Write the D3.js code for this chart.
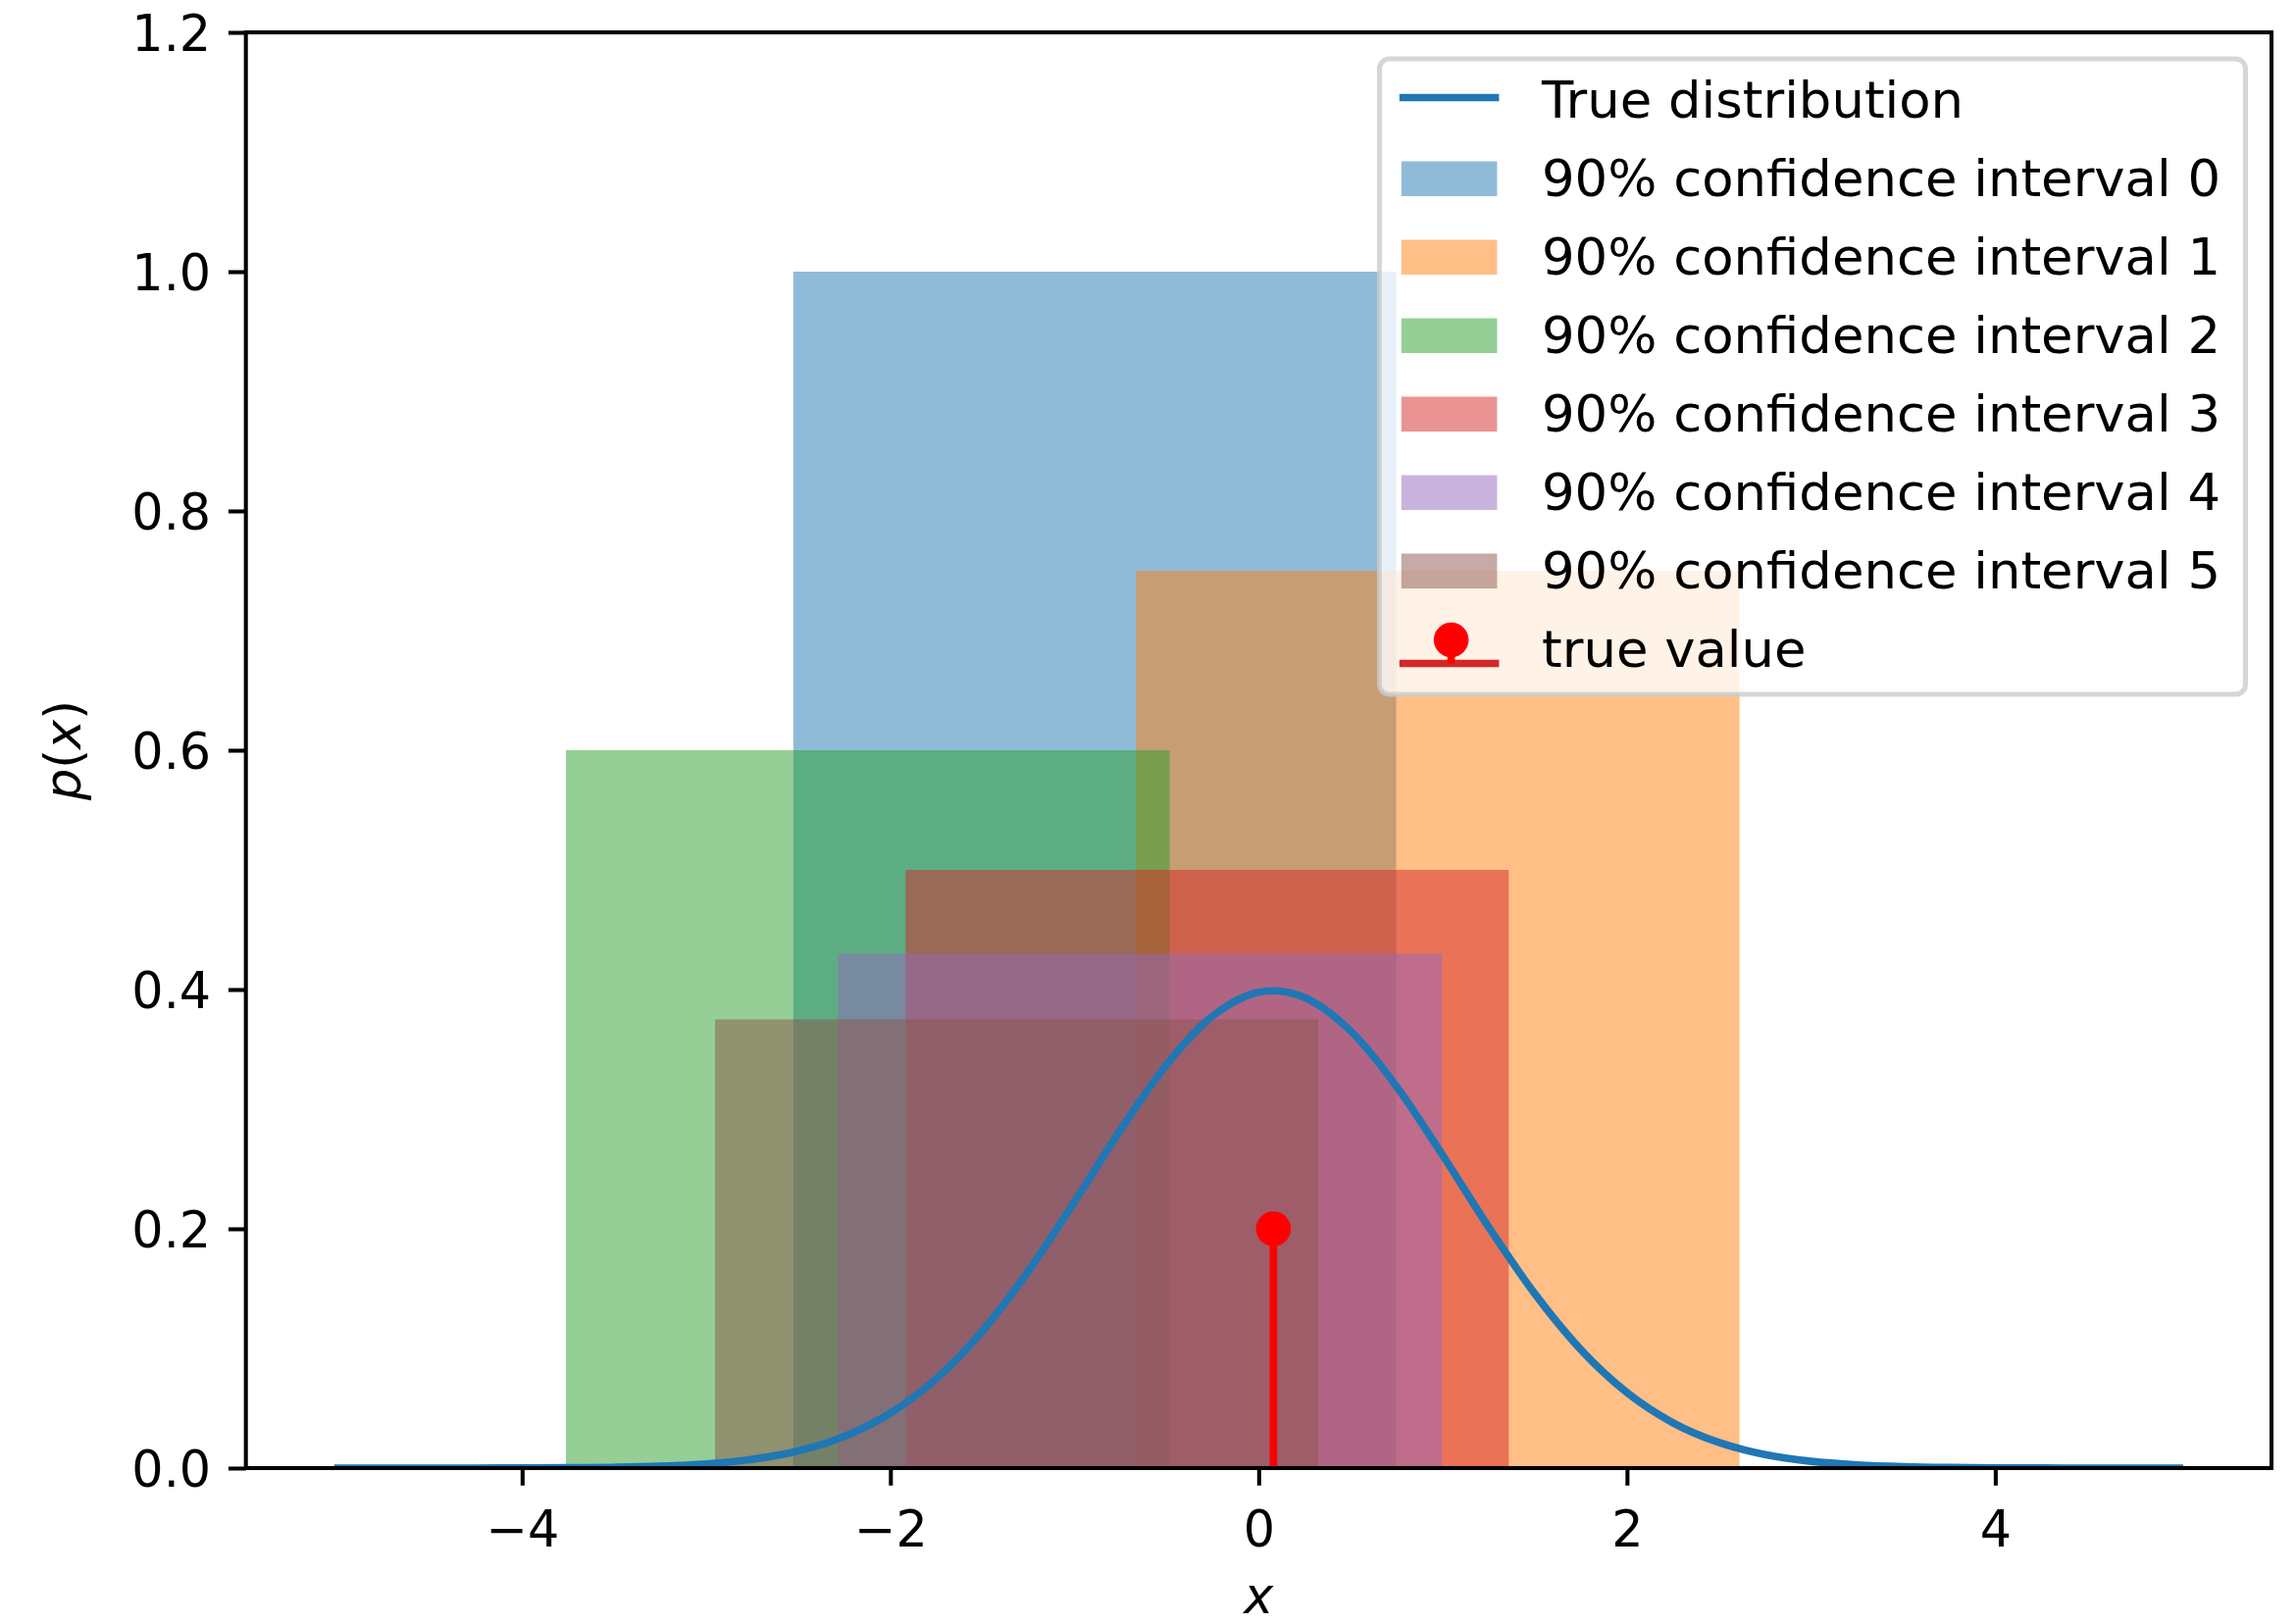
<!DOCTYPE html>
<html>
<head>
<meta charset="utf-8">
<script src="https://cdn.jsdelivr.net/npm/d3@7"></script>
<style>
  html, body { margin: 0; padding: 0; background: #ffffff; }
  svg { display: block; font-family: "DejaVu Sans", sans-serif; }
</style>
</head>
<body>
<svg id="chart" width="2341" height="1656"></svg>
<script>
// Confidence intervals: lower bound, upper bound and bar height
const intervalLabels = [
  "90% confidence interval 0",
  "90% confidence interval 1",
  "90% confidence interval 2",
  "90% confidence interval 3",
  "90% confidence interval 4",
  "90% confidence interval 5"
];
const intervalLow    = [-2.527, -0.667, -3.762, -1.917, -2.284, -2.952];
const intervalHigh   = [ 0.747,  2.611, -0.483,  1.358,  0.995,  0.323];
const intervalHeight = [ 1.0,    0.75,   0.6,    0.5,    0.43,   0.375];
const intervalColors = ["#1f77b4", "#ff7f0e", "#2ca02c", "#d62728", "#9467bd", "#8c564b"];

// True distribution density sampled along x
const curveX = [-5.0, -4.75, -4.5, -4.25, -4.0, -3.75, -3.5, -3.25, -3.0, -2.75,
  -2.5, -2.25, -2.0, -1.75, -1.5, -1.25, -1.0, -0.75, -0.5, -0.25,
  0.0, 0.08, 0.25, 0.5, 0.75, 1.0, 1.25, 1.5, 1.75, 2.0, 2.25,
  2.5, 2.75, 3.0, 3.25, 3.5, 3.75, 4.0, 4.25, 4.5, 4.75, 5.0];
const curveY = [0.0, 0.0, 0.00001, 0.00003, 0.0001, 0.00026, 0.00066, 0.00156, 0.00348, 0.00728,
  0.01431, 0.02644, 0.04588, 0.07477, 0.11453, 0.16478, 0.22268, 0.28272, 0.33723, 0.37778,
  0.39767, 0.39894, 0.39322, 0.36526, 0.31873, 0.26129, 0.20120, 0.14557, 0.09893, 0.06316, 0.03787,
  0.02134, 0.01130, 0.00562, 0.00262, 0.00115, 0.00047, 0.00018, 0.00007, 0.00002, 0.00001, 0.0];

// True value stem
const trueValueX = 0.08;
const trueValueY = 0.2;

const xTicks = [-4, -2, 0, 2, 4];
const yTicks = [0.0, 0.2, 0.4, 0.6, 0.8, 1.0, 1.2];

// Layout (pixels)
const plot = { left: 250.7, right: 2316, top: 33, bottom: 1497 };
const pt = 365.8 / 72;           // pixels per point
const fontPx = 10 * pt;
const tickLen = 3.5 * pt;
const tickPad = 3.5 * pt;
const spineW = 0.8 * pt;

const svg = d3.select("#chart");

const x = d3.scaleLinear().domain([-5.5, 5.5]).range([plot.left, plot.right]);
const y = d3.scaleLinear().domain([0, 1.2]).range([plot.bottom, plot.top]);

svg.append("rect").attr("width", 2341).attr("height", 1656).attr("fill", "#ffffff");

svg.append("defs").append("clipPath").attr("id", "plotClip")
  .append("rect")
  .attr("x", plot.left).attr("y", plot.top)
  .attr("width", plot.right - plot.left).attr("height", plot.bottom - plot.top);

const area = svg.append("g").attr("clip-path", "url(#plotClip)");

// Interval bars
const intervals = intervalLabels.map((label, i) => ({
  label, lo: intervalLow[i], hi: intervalHigh[i], h: intervalHeight[i], color: intervalColors[i]
}));

area.selectAll("rect.interval")
  .data(intervals)
  .join("rect")
  .attr("class", "interval")
  .attr("x", d => x(d.lo))
  .attr("width", d => x(d.hi) - x(d.lo))
  .attr("y", d => y(d.h))
  .attr("height", d => y(0) - y(d.h))
  .attr("fill", d => d.color)
  .attr("fill-opacity", 0.5);

// Density curve
const curvePts = curveX.map((v, i) => [v, curveY[i]]);
const line = d3.line().x(d => x(d[0])).y(d => y(d[1])).curve(d3.curveMonotoneX);
area.append("path")
  .attr("d", line(curvePts))
  .attr("fill", "none")
  .attr("stroke", "#1f77b4")
  .attr("stroke-width", 1.5 * pt)
  .attr("stroke-linecap", "square")
  .attr("stroke-linejoin", "round");

// Stem for the true value
area.append("line")
  .attr("x1", x(trueValueX)).attr("x2", x(trueValueX))
  .attr("y1", y(0)).attr("y2", y(trueValueY))
  .attr("stroke", "#ff0000")
  .attr("stroke-width", 1.5 * pt);
area.append("circle")
  .attr("cx", x(trueValueX)).attr("cy", y(trueValueY))
  .attr("r", 3.5 * pt)
  .attr("fill", "#ff0000");

// Axes
const xAxis = d3.axisBottom(x).tickValues(xTicks).tickSize(tickLen).tickPadding(tickPad)
  .tickFormat(d3.format("d"));
const yAxis = d3.axisLeft(y).tickValues(yTicks).tickSize(tickLen).tickPadding(tickPad)
  .tickFormat(d3.format(".1f"));

const gx = svg.append("g").attr("transform", `translate(0,${plot.bottom})`).call(xAxis);
const gy = svg.append("g").attr("transform", `translate(${plot.left},0)`).call(yAxis);

[gx, gy].forEach(g => {
  g.select(".domain").remove();
  g.selectAll(".tick line").attr("stroke", "#000").attr("stroke-width", spineW);
  g.selectAll(".tick text")
    .attr("fill", "#000")
    .attr("font-size", fontPx)
    .attr("font-family", "DejaVu Sans");
});
gx.selectAll(".tick text").attr("dy", null).attr("y", 1577 - plot.bottom);
gy.selectAll(".tick text").attr("dy", null).attr("y", 18.5);

// Spines
svg.append("rect")
  .attr("x", plot.left).attr("y", plot.top)
  .attr("width", plot.right - plot.left).attr("height", plot.bottom - plot.top)
  .attr("fill", "none")
  .attr("stroke", "#000")
  .attr("stroke-width", spineW)
  .attr("stroke-linejoin", "miter");

// Axis labels
svg.append("text")
  .attr("x", (plot.left + plot.right) / 2)
  .attr("y", 1645)
  .attr("text-anchor", "middle")
  .attr("font-size", fontPx)
  .attr("font-style", "italic")
  .text("x");

const yl = svg.append("text")
  .attr("transform", `translate(82,${(plot.top + plot.bottom) / 2}) rotate(-90)`)
  .attr("text-anchor", "middle")
  .attr("font-size", fontPx);
yl.append("tspan").attr("font-style", "italic").text("p");
yl.append("tspan").text("(");
yl.append("tspan").attr("font-style", "italic").text("x");
yl.append("tspan").text(")");

// Legend
const legend = { left: 1406.5, top: 60, right: 2289.5, bottom: 708 };
svg.append("rect")
  .attr("x", legend.left).attr("y", legend.top)
  .attr("width", legend.right - legend.left).attr("height", legend.bottom - legend.top)
  .attr("rx", 0.2 * fontPx).attr("ry", 0.2 * fontPx)
  .attr("fill", "#ffffff").attr("fill-opacity", 0.8)
  .attr("stroke", "#cccccc").attr("stroke-opacity", 0.8)
  .attr("stroke-width", 1.0 * pt);

const handleX0 = legend.left + 0.4 * fontPx;
const handleW = 2.0 * fontPx;
const textX = 1572;
const textStretch = 1.04;
const rowY0 = 101.5, rowStep = 80.0;

const entries = [{ type: "line", label: "True distribution", color: "#1f77b4" }]
  .concat(intervals.map(d => ({ type: "patch", label: d.label, color: d.color })))
  .concat([{ type: "stem", label: "true value" }]);

const rows = svg.append("g").selectAll("g.entry")
  .data(entries)
  .join("g")
  .attr("class", "entry")
  .attr("transform", (d, i) => `translate(0,${rowY0 + i * rowStep})`);

rows.each(function (d) {
  const g = d3.select(this);
  if (d.type === "line") {
    g.append("line")
      .attr("x1", handleX0).attr("x2", handleX0 + handleW)
      .attr("y1", -2).attr("y2", -2)
      .attr("stroke", d.color).attr("stroke-width", 1.5 * pt);
  } else if (d.type === "patch") {
    g.append("rect")
      .attr("x", handleX0 + 2).attr("y", -17)
      .attr("width", handleW - 4).attr("height", 0.7 * fontPx)
      .attr("fill", d.color).attr("fill-opacity", 0.5);
  } else {
    const cx = handleX0 + handleW / 2 + 2;
    g.append("line")
      .attr("x1", handleX0).attr("x2", handleX0 + handleW)
      .attr("y1", 15).attr("y2", 15)
      .attr("stroke", "#d62728").attr("stroke-width", 1.5 * pt);
    g.append("line")
      .attr("x1", cx).attr("x2", cx)
      .attr("y1", 15).attr("y2", -9)
      .attr("stroke", "#ff0000").attr("stroke-width", 1.5 * pt);
    g.append("circle")
      .attr("cx", cx).attr("cy", -9)
      .attr("r", 3.5 * pt)
      .attr("fill", "#ff0000");
  }
  g.append("text")
    .attr("transform", `translate(${textX},18.5) scale(${textStretch},1)`)
    .attr("font-size", fontPx)
    .attr("fill", "#000")
    .text(d.label);
});
</script>
</body>
</html>
